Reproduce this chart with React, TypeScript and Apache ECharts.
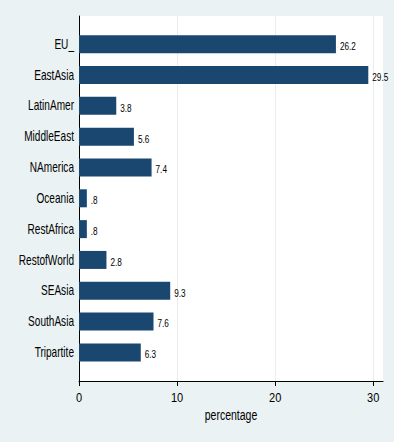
import React, { useEffect, useRef } from "react";
import * as echarts from "echarts";

const categories = [
  "EU_",
  "EastAsia",
  "LatinAmer",
  "MiddleEast",
  "NAmerica",
  "Oceania",
  "RestAfrica",
  "RestofWorld",
  "SEAsia",
  "SouthAsia",
  "Tripartite",
];
const values = [26.2, 29.5, 3.8, 5.6, 7.4, 0.8, 0.8, 2.8, 9.3, 7.6, 6.3];
const xTicks = [0, 10, 20, 30];
const xTitle = "percentage";

const FONT = "'Liberation Sans', Arial, sans-serif";
const fmtValue = (v: number) => String(v).replace(/^0\./, ".");

export default function App() {
  const ref = useRef<HTMLDivElement>(null);
  useEffect(() => {
    if (!ref.current) return;
    const chart = echarts.init(ref.current, null, { renderer: "svg" });
    const xMax = 31;
    const txt = (size: number) => ({
      color: "#000",
      fontSize: size,
      fontFamily: FONT,
    });
    chart.setOption({
      animation: false,
      backgroundColor: "#eaf2f3",
      textStyle: { fontFamily: FONT },
      grid: [
        {
          left: 79,
          right: 11,
          top: 16,
          bottom: 61,
          show: true,
          backgroundColor: "#ffffff",
          borderWidth: 0,
          outerBoundsMode: "none",
          containLabel: false,
        },
        {
          left: 79,
          right: 11,
          top: 28.8,
          bottom: 74.2,
          outerBoundsMode: "none",
          containLabel: false,
        },
      ],
      xAxis: [
        {
          gridIndex: 0,
          type: "value",
          min: 0,
          max: xMax,
          interval: 10,
          axisLine: { show: true, lineStyle: { color: "#000", width: 1 } },
          axisTick: {
            show: true,
            length: 5,
            lineStyle: { color: "#000" },
            customValues: xTicks,
          },
          axisLabel: { ...txt(12), margin: 11, customValues: xTicks },
          splitLine: { show: true, lineStyle: { color: "#ececec", width: 1 } },
          name: xTitle,
          nameLocation: "middle",
          nameGap: 25,
          nameTextStyle: txt(14),
        },
        {
          gridIndex: 1,
          type: "value",
          min: 0,
          max: xMax,
          show: false,
        },
      ],
      yAxis: [
        {
          gridIndex: 0,
          type: "value",
          min: 0,
          max: 1,
          axisLine: { show: true, lineStyle: { color: "#000", width: 1 } },
          axisTick: { show: false },
          axisLabel: { show: false },
          splitLine: { show: false },
        },
        {
          gridIndex: 1,
          type: "category",
          inverse: true,
          data: categories,
          axisLine: { show: false },
          axisTick: { show: false },
          splitLine: { show: false },
          axisLabel: { ...txt(14), margin: 5, padding: [4, 0, 0, 0] },
        },
      ],
      series: [
        {
          type: "bar",
          xAxisIndex: 1,
          yAxisIndex: 1,
          data: values,
          barWidth: 18,
          itemStyle: { color: "#1a476f" },
          label: {
            show: true,
            position: "right",
            distance: 4,
            offset: [0, 2],
            ...txt(10.5),
            formatter: (p: any) => fmtValue(p.value),
          },
        },
      ],
    });

    // Stata-like condensed lettering: squeeze texts horizontally around their anchor
    const catSet = new Set(categories);
    const tickSet = new Set(xTicks.map(String));
    const valSet = new Set(values.map(fmtValue));
    const scaleFor = (s: string) => {
      if (catSet.has(s)) return 0.72;
      if (s === xTitle) return 0.75;
      if (tickSet.has(s)) return 0.92;
      if (valSet.has(s)) return 0.78;
      return 1;
    };
    const squeeze = () => {
      const root = ref.current;
      if (!root) return;
      root.querySelectorAll("text").forEach((t) => {
        if (t.getAttribute("data-sq")) return;
        const s = scaleFor((t.textContent || "").trim());
        if (s === 1) return;
        const x = parseFloat(t.getAttribute("x") || "0") || 0;
        const tr = t.getAttribute("transform") || "";
        t.setAttribute(
          "transform",
          `${tr} translate(${x} 0) scale(${s} 1) translate(${-x} 0)`.trim()
        );
        t.setAttribute("data-sq", "1");
      });
    };
    squeeze();
    chart.on("finished", squeeze);
    return () => chart.dispose();
  }, []);
  return (
    <div
      ref={ref}
      style={{ position: "fixed", left: 0, top: 0, width: 394, height: 442 }}
    />
  );
}
